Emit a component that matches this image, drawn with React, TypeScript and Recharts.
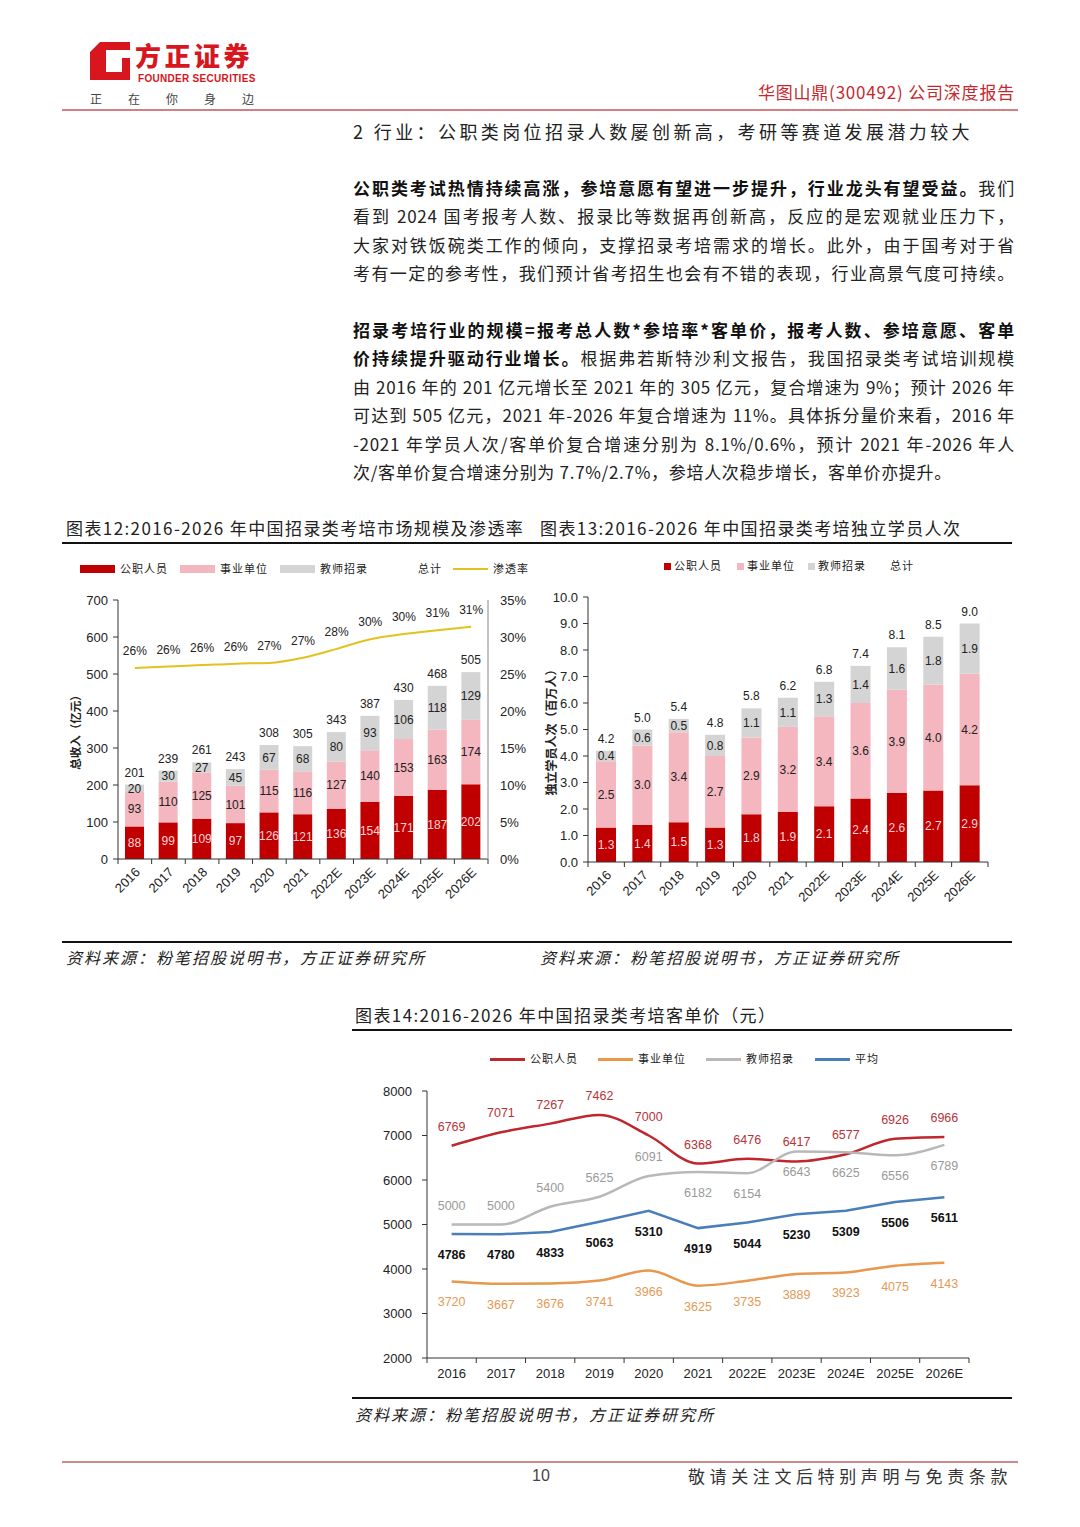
import React from 'react';
import {
  ComposedChart,
  BarChart,
  LineChart,
  Bar,
  Line,
  XAxis,
  YAxis,
  LabelList,
} from 'recharts';

const YEARS = ['2016', '2017', '2018', '2019', '2020', '2021', '2022E', '2023E', '2024E', '2025E', '2026E'];

// 图表12 市场规模（亿元）
const revGov = [88, 99, 109, 97, 126, 121, 136, 154, 171, 187, 202];
const revInst = [93, 110, 125, 101, 115, 116, 127, 140, 153, 163, 174];
const revTeacher = [20, 30, 27, 45, 67, 68, 80, 93, 106, 118, 129];
const revTotal = [201, 239, 261, 243, 308, 305, 343, 387, 430, 468, 505];
const penetration = [25.8, 26.0, 26.2, 26.4, 26.5, 27.2, 28.4, 29.7, 30.4, 30.9, 31.4];

// 图表13 独立学员人次（百万人）
const stuGov = [1.3, 1.4, 1.5, 1.3, 1.8, 1.9, 2.1, 2.4, 2.6, 2.7, 2.9];
const stuInst = [2.5, 3.0, 3.4, 2.7, 2.9, 3.2, 3.4, 3.6, 3.9, 4.0, 4.2];
const stuTeacher = [0.4, 0.6, 0.5, 0.8, 1.1, 1.1, 1.3, 1.4, 1.6, 1.8, 1.9];
const stuTotal = [4.2, 5.0, 5.4, 4.8, 5.8, 6.2, 6.8, 7.4, 8.1, 8.5, 9.0];

// 图表14 客单价（元）
const priceGov = [6769, 7071, 7267, 7462, 7000, 6368, 6476, 6417, 6577, 6926, 6966];
const priceInst = [3720, 3667, 3676, 3741, 3966, 3625, 3735, 3889, 3923, 4075, 4143];
const priceTeacher = [5000, 5000, 5400, 5625, 6091, 6182, 6154, 6643, 6625, 6556, 6789];
const priceAvg = [4786, 4780, 4833, 5063, 5310, 4919, 5044, 5230, 5309, 5506, 5611];

const revTicks = [0, 100, 200, 300, 400, 500, 600, 700];
const rateTicks = [0, 5, 10, 15, 20, 25, 30, 35];
const stuTicks = [0, 1, 2, 3, 4, 5, 6, 7, 8, 9, 10];
const priceTicks = [2000, 3000, 4000, 5000, 6000, 7000, 8000];

// 教师招录标签在线上方还是下方
const teacherLabelSide = ['up', 'up', 'up', 'up', 'up', 'down', 'down', 'down', 'down', 'down', 'down'];

const revData = YEARS.map((year, i) => ({
  year,
  gov: revGov[i],
  inst: revInst[i],
  teacher: revTeacher[i],
  total: revTotal[i],
  rate: penetration[i],
}));

const stuData = YEARS.map((year, i) => ({
  year,
  gov: stuGov[i],
  inst: stuInst[i],
  teacher: stuTeacher[i],
  total: stuTotal[i],
}));

const priceData = YEARS.map((year, i) => ({
  year,
  gov: priceGov[i],
  inst: priceInst[i],
  teacher: priceTeacher[i],
  avg: priceAvg[i],
}));

const RED = '#c00000';
const PINK = '#f4b6bf';
const GREY = '#d4d4d4';
const YELLOW = '#e2c21e';
const NUM_FONT = '"Liberation Sans", "Noto Sans CJK SC", sans-serif';
const CJK = '"Noto Sans CJK SC", "Liberation Sans", sans-serif';

function rotTick(p: any, bw: number) {
  const { x, y, payload, index, visibleTicksCount } = p;
  const last = index === visibleTicksCount - 1;
  return (
    <g>
      <line x1={x - bw / 2} x2={x - bw / 2} y1={y} y2={y + 5} stroke="#333" />
      {last && <line x1={x + bw / 2} x2={x + bw / 2} y1={y} y2={y + 5} stroke="#333" />}
      <text
        x={x + 6}
        y={y + 14}
        transform={`rotate(-45 ${x + 6} ${y + 14})`}
        textAnchor="end"
        fontSize={13}
        fill="#222"
      >
        {payload.value}
      </text>
    </g>
  );
}

function flatTick(p: any, bw: number) {
  const { x, y, payload, index, visibleTicksCount } = p;
  const last = index === visibleTicksCount - 1;
  return (
    <g>
      <line x1={x - bw / 2} x2={x - bw / 2} y1={y} y2={y + 5} stroke="#333" />
      {last && <line x1={x + bw / 2} x2={x + bw / 2} y1={y} y2={y + 5} stroke="#333" />}
      <text x={x} y={y + 15} textAnchor="middle" dominantBaseline="central" fontSize={13} fill="#222">
        {payload.value}
      </text>
    </g>
  );
}

function vLabel(text: string, dx: number, size: number) {
  return (p: any) => {
    const vb = p.viewBox;
    const cx = vb.x + dx;
    const cy = vb.y + vb.height / 2;
    return (
      <text
        x={cx}
        y={cy}
        transform={`rotate(-90 ${cx} ${cy})`}
        textAnchor="middle"
        dominantBaseline="central"
        fontSize={size}
        fontWeight={700}
        fill="#222"
        style={{ fontFamily: CJK }}
      >
        {text}
      </text>
    );
  };
}

function shiftedLabel(color: string, dy: (i: number) => number, bold = false) {
  return (p: any) => (
    <text
      x={p.x}
      y={p.y + dy(p.index)}
      textAnchor="middle"
      dominantBaseline="central"
      fontSize={12.5}
      fontWeight={bold ? 700 : 400}
      fill={color}
    >
      {p.value}
    </text>
  );
}

function RevenueChart() {
  const bw = 370 / 11;
  return (
    <ComposedChart width={470} height={362} data={revData} margin={{ top: 50, right: 4, bottom: 0, left: 4 }}>
      <XAxis
        dataKey="year"
        height={53}
        interval={0}
        axisLine={{ stroke: '#333' }}
        tickLine={false}
        tickSize={0}
        tickMargin={0}
        tick={(p: any) => rotTick(p, bw)}
      />
      <YAxis
        yAxisId="l"
        width={52}
        domain={[0, 700]}
        ticks={revTicks}
        interval={0}
        axisLine={{ stroke: '#333' }}
        tickLine={{ stroke: '#333' }}
        tickSize={5}
        tickMargin={5}
        tick={{ fontSize: 13, fill: '#222' }}
        label={vLabel('总收入（亿元）', 9, 11.5)}
      />
      <YAxis
        yAxisId="r"
        orientation="right"
        width={40}
        domain={[0, 35]}
        ticks={rateTicks}
        interval={0}
        tickFormatter={(v: number) => `${v}%`}
        axisLine={{ stroke: '#b0b0b0', strokeWidth: 1.5 }}
        tickLine={false}
        tickMargin={6}
        tick={{ fontSize: 13, fill: '#222' }}
      />
      <Bar yAxisId="l" dataKey="gov" stackId="a" fill={RED} barSize={19} isAnimationActive={false}>
        <LabelList dataKey="gov" position="center" fill="#fbd3d8" fontSize={12} />
      </Bar>
      <Bar yAxisId="l" dataKey="inst" stackId="a" fill={PINK} barSize={19} isAnimationActive={false}>
        <LabelList dataKey="inst" position="center" fill="#222" fontSize={12} />
      </Bar>
      <Bar yAxisId="l" dataKey="teacher" stackId="a" fill={GREY} barSize={19} isAnimationActive={false}>
        <LabelList dataKey="teacher" position="center" fill="#222" fontSize={12} />
        <LabelList dataKey="total" position="top" offset={8} fill="#222" fontSize={12} />
      </Bar>
      <Line
        yAxisId="r"
        type="monotone"
        dataKey="rate"
        stroke={YELLOW}
        strokeWidth={2}
        dot={false}
        isAnimationActive={false}
      >
        <LabelList
          dataKey="rate"
          position="top"
          offset={13}
          fill="#222"
          fontSize={12}
          formatter={(v: any) => `${Math.round(Number(v))}%`}
        />
      </Line>
    </ComposedChart>
  );
}

function StudentChart() {
  const bw = 400 / 11;
  const fmt = (v: any) => Number(v).toFixed(1);
  return (
    <BarChart width={470} height={362} data={stuData} margin={{ top: 47, right: 19, bottom: 0, left: 6 }}>
      <XAxis
        dataKey="year"
        height={50}
        interval={0}
        axisLine={{ stroke: '#333' }}
        tickLine={false}
        tickSize={0}
        tickMargin={0}
        tick={(p: any) => rotTick(p, bw)}
      />
      <YAxis
        width={45}
        domain={[0, 10]}
        ticks={stuTicks}
        interval={0}
        tickFormatter={(v: number) => v.toFixed(1)}
        axisLine={{ stroke: '#333' }}
        tickLine={{ stroke: '#333' }}
        tickSize={5}
        tickMargin={5}
        tick={{ fontSize: 13, fill: '#222' }}
        label={vLabel('独立学员人次（百万人）', 7, 12)}
      />
      <Bar dataKey="gov" stackId="a" fill={RED} barSize={20} isAnimationActive={false}>
        <LabelList dataKey="gov" position="center" fill="#fbd3d8" fontSize={12} formatter={fmt} />
      </Bar>
      <Bar dataKey="inst" stackId="a" fill={PINK} barSize={20} isAnimationActive={false}>
        <LabelList dataKey="inst" position="center" fill="#222" fontSize={12} formatter={fmt} />
      </Bar>
      <Bar dataKey="teacher" stackId="a" fill={GREY} barSize={20} isAnimationActive={false}>
        <LabelList dataKey="teacher" position="center" fill="#222" fontSize={12} formatter={fmt} />
        <LabelList dataKey="total" position="top" offset={8} fill="#222" fontSize={12} formatter={fmt} />
      </Bar>
    </BarChart>
  );
}

function PriceChart() {
  const bw = 542 / 11;
  return (
    <LineChart width={660} height={345} data={priceData} margin={{ top: 46, right: 43, bottom: 0, left: 20 }}>
      <XAxis
        dataKey="year"
        height={32}
        interval={0}
        padding={{ left: bw / 2, right: bw / 2 }}
        axisLine={{ stroke: '#333' }}
        tickLine={false}
        tickSize={0}
        tickMargin={0}
        tick={(p: any) => flatTick(p, bw)}
      />
      <YAxis
        width={55}
        domain={[2000, 8000]}
        ticks={priceTicks}
        interval={0}
        axisLine={{ stroke: '#333' }}
        tickLine={{ stroke: '#333' }}
        tickSize={5}
        tickMargin={10}
        tick={{ fontSize: 13, fill: '#222' }}
      />
      <Line type="monotone" dataKey="gov" stroke="#c0262d" strokeWidth={2.5} dot={false} isAnimationActive={false}>
        <LabelList dataKey="gov" content={shiftedLabel('#b8323a', () => -19)} />
      </Line>
      <Line type="monotone" dataKey="inst" stroke="#e8974c" strokeWidth={2.5} dot={false} isAnimationActive={false}>
        <LabelList dataKey="inst" content={shiftedLabel('#e49a55', () => 21)} />
      </Line>
      <Line type="monotone" dataKey="teacher" stroke="#b8b8b8" strokeWidth={2.5} dot={false} isAnimationActive={false}>
        <LabelList
          dataKey="teacher"
          content={shiftedLabel('#9a9a9a', (i) => (teacherLabelSide[i] === 'up' ? -19 : 21))}
        />
      </Line>
      <Line type="linear" dataKey="avg" stroke="#4a7ebb" strokeWidth={2.5} dot={false} isAnimationActive={false}>
        <LabelList dataKey="avg" content={shiftedLabel('#111', () => 21, true)} />
      </Line>
    </LineChart>
  );
}

function Txt({ x, y, size, color = '#222', children, style, right }: any) {
  const pos = right !== undefined ? { right: 1080 - right } : { left: x };
  return (
    <div
      style={{
        position: 'absolute',
        ...pos,
        top: y - size * 0.6,
        fontSize: size,
        lineHeight: `${size * 1.2}px`,
        height: size * 1.2,
        color,
        whiteSpace: 'nowrap',
        ...style,
      }}
    >
      {children}
    </div>
  );
}

function Para({ y, lines, lastLeft = false }: any) {
  return (
    <>
      {lines.map((ln: any, i: number) => (
        <div
          key={i}
          style={{
            position: 'absolute',
            left: 353,
            top: y + i * 28.4 - 14,
            width: 662,
            height: 28,
            lineHeight: '28px',
            fontSize: 17,
            letterSpacing: 0.7,
            color: '#222',
            textAlign: 'justify',
            textAlignLast: lastLeft && i === lines.length - 1 ? 'left' : 'justify',
            whiteSpace: 'nowrap',
            overflow: 'visible',
          }}
        >
          {ln}
        </div>
      ))}
    </>
  );
}

function Rule({ x, y, w, color = '#111', h = 2 }: any) {
  return <div style={{ position: 'absolute', left: x, top: y - h / 2, width: w, height: h, background: color }} />;
}

function LegendBox({ x, y, w, h, color }: any) {
  return <div style={{ position: 'absolute', left: x, top: y - h / 2, width: w, height: h, background: color }} />;
}

const legendText = { letterSpacing: 1 };

export default function App() {
  const B = (s: string) => <b style={{ fontWeight: 700, color: '#111' }}>{s}</b>;
  return (
    <div
      style={{
        position: 'absolute',
        left: 0,
        top: 0,
        width: 1080,
        height: 1527,
        background: '#fff',
        overflow: 'hidden',
        fontFamily: CJK,
      }}
    >
      {/* header */}
      <svg style={{ position: 'absolute', left: 88, top: 40 }} width={46} height={44}>
        <path d="M12 2 L42 2 L42 10 L18 10 L18 32 L34 32 L34 18 L42 18 L42 40 L2 40 L2 12 Z" fill="#d7161e" />
      </svg>
      <Txt
        x={135}
        y={56}
        size={26}
        color="#d7161e"
        style={{ fontWeight: 900, letterSpacing: 3.5, lineHeight: '26px', height: 26, top: 42 }}
      >
        方正证券
      </Txt>
      <Txt
        x={138}
        y={79}
        size={10}
        color="#d7161e"
        style={{ fontWeight: 700, fontFamily: NUM_FONT, letterSpacing: 0.3, lineHeight: '10px', height: 10, top: 74 }}
      >
        FOUNDER SECURITIES
      </Txt>
      <Txt x={90} y={99} size={12} color="#444" style={{ letterSpacing: 26 }}>
        正在你身边
      </Txt>
      <Txt right={1015} y={92} size={17} color="#c7282e" style={{ letterSpacing: 0.8 }}>
        华图山鼎(300492) 公司深度报告
      </Txt>
      <Rule x={62} y={110} w={956} color="#d27f84" h={2} />

      {/* body text */}
      <Txt x={353} y={132} size={18} color="#222" style={{ letterSpacing: 3.4 }}>
        2 行业：公职类岗位招录人数屡创新高，考研等赛道发展潜力较大
      </Txt>
      <Para
        y={188}
        lines={[
          <>{B('公职类考试热情持续高涨，参培意愿有望进一步提升，行业龙头有望受益。')}我们</>,
          '看到 2024 国考报考人数、报录比等数据再创新高，反应的是宏观就业压力下，',
          '大家对铁饭碗类工作的倾向，支撑招录考培需求的增长。此外，由于国考对于省',
          '考有一定的参考性，我们预计省考招生也会有不错的表现，行业高景气度可持续。',
        ]}
      />
      <Para
        y={330}
        lastLeft
        lines={[
          B('招录考培行业的规模=报考总人数*参培率*客单价，报考人数、参培意愿、客单'),
          <>{B('价持续提升驱动行业增长。')}根据弗若斯特沙利文报告，我国招录类考试培训规模</>,
          '由 2016 年的 201 亿元增长至 2021 年的 305 亿元，复合增速为 9%；预计 2026 年',
          '可达到 505 亿元，2021 年-2026 年复合增速为 11%。具体拆分量价来看，2016 年',
          '-2021 年学员人次/客单价复合增速分别为 8.1%/0.6%，预计 2021 年-2026 年人',
          '次/客单价复合增速分别为 7.7%/2.7%，参培人次稳步增长，客单价亦提升。',
        ]}
      />

      {/* chart 12 / 13 titles */}
      <Txt x={66} y={528} size={17} style={{ letterSpacing: 1.4 }}>
        图表12:2016-2026 年中国招录类考培市场规模及渗透率
      </Txt>
      <Txt x={540} y={528} size={17} style={{ letterSpacing: 1.4 }}>
        图表13:2016-2026 年中国招录类考培独立学员人次
      </Txt>
      <Rule x={62} y={543} w={950} color="#111" h={2} />

      {/* chart 12 legend */}
      <LegendBox x={80} y={569} w={35} h={8} color={RED} />
      <Txt x={120} y={569} size={11} style={legendText}>公职人员</Txt>
      <LegendBox x={180} y={569} w={35} h={8} color={PINK} />
      <Txt x={220} y={569} size={11} style={legendText}>事业单位</Txt>
      <LegendBox x={280} y={569} w={35} h={8} color={GREY} />
      <Txt x={320} y={569} size={11} style={legendText}>教师招录</Txt>
      <Txt x={418} y={569} size={11} style={legendText}>总计</Txt>
      <LegendBox x={453} y={569} w={35} h={2} color={YELLOW} />
      <Txt x={493} y={569} size={11} style={legendText}>渗透率</Txt>

      <div style={{ position: 'absolute', left: 62, top: 550, fontFamily: NUM_FONT }}>
        <RevenueChart />
      </div>

      {/* chart 13 legend */}
      <LegendBox x={664} y={566} w={7} h={7} color={RED} />
      <Txt x={674} y={566} size={11} style={legendText}>公职人员</Txt>
      <LegendBox x={737} y={566} w={7} h={7} color={PINK} />
      <Txt x={747} y={566} size={11} style={legendText}>事业单位</Txt>
      <LegendBox x={808} y={566} w={7} h={7} color={GREY} />
      <Txt x={818} y={566} size={11} style={legendText}>教师招录</Txt>
      <Txt x={890} y={566} size={11} style={legendText}>总计</Txt>

      <div style={{ position: 'absolute', left: 537, top: 550, fontFamily: NUM_FONT }}>
        <StudentChart />
      </div>

      <Rule x={62} y={942} w={950} color="#111" h={2} />
      <Txt x={66} y={958} size={16} style={{ fontStyle: 'italic', letterSpacing: 2 }}>
        资料来源：粉笔招股说明书，方正证券研究所
      </Txt>
      <Txt x={540} y={958} size={16} style={{ fontStyle: 'italic', letterSpacing: 2 }}>
        资料来源：粉笔招股说明书，方正证券研究所
      </Txt>

      {/* chart 14 */}
      <Txt x={355} y={1015} size={17} style={{ letterSpacing: 1.4 }}>
        图表14:2016-2026 年中国招录类考培客单价（元）
      </Txt>
      <Rule x={352} y={1030} w={660} color="#111" h={2} />

      <LegendBox x={490} y={1059} w={35} h={3} color="#c0262d" />
      <Txt x={530} y={1059} size={11} style={legendText}>公职人员</Txt>
      <LegendBox x={598} y={1059} w={35} h={3} color="#e8974c" />
      <Txt x={638} y={1059} size={11} style={legendText}>事业单位</Txt>
      <LegendBox x={706} y={1059} w={35} h={3} color="#b8b8b8" />
      <Txt x={746} y={1059} size={11} style={legendText}>教师招录</Txt>
      <LegendBox x={815} y={1059} w={35} h={3} color="#4a7ebb" />
      <Txt x={855} y={1059} size={11} style={legendText}>平均</Txt>

      <div style={{ position: 'absolute', left: 352, top: 1045, fontFamily: NUM_FONT }}>
        <PriceChart />
      </div>

      <Rule x={352} y={1398} w={660} color="#111" h={2} />
      <Txt x={355} y={1415} size={16} style={{ fontStyle: 'italic', letterSpacing: 2 }}>
        资料来源：粉笔招股说明书，方正证券研究所
      </Txt>

      {/* footer */}
      <Rule x={62} y={1462} w={956} color="#c98a8e" h={2} />
      <Txt x={532} y={1476} size={16} color="#444" style={{ fontFamily: NUM_FONT }}>
        10
      </Txt>
      <Txt x={688} y={1476} size={17} color="#333" style={{ letterSpacing: 4.6 }}>
        敬请关注文后特别声明与免责条款
      </Txt>
    </div>
  );
}
